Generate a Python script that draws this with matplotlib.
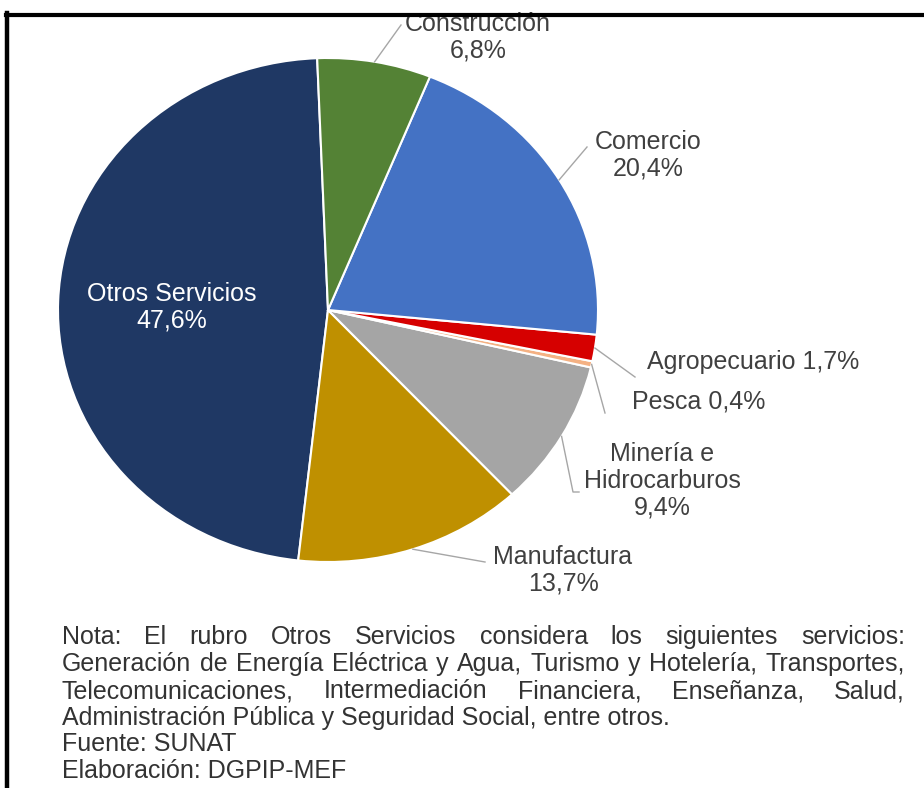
import matplotlib
matplotlib.use("Agg")
import matplotlib.pyplot as plt
from matplotlib.lines import Line2D
import numpy as np

plt.rcParams["font.family"] = ["Liberation Sans", "DejaVu Sans"]

# --- data (counter-clockwise from the top) ---
SECTORS = ["Otros Servicios", "Manufactura", "Minería e\nHidrocarburos",
           "Pesca", "Agropecuario", "Comercio", "Construcción"]
SHARES = [47.6, 13.7, 9.4, 0.4, 1.7, 20.4, 6.8]
COLORS = ["#1F3864", "#BF9000", "#A5A5A5", "#F4B183", "#D60000", "#4472C4", "#548235"]
INLINE_LABEL = [False, False, False, True, True, False, False]  # "name x%" on one line

NOTE_JUSTIFIED = [
    "Nota: El rubro Otros Servicios considera los siguientes servicios:",
    "Generación de Energía Eléctrica y Agua, Turismo y Hotelería, Transportes,",
    "Telecomunicaciones, Intermediación Financiera, Enseñanza, Salud,",
]
NOTE_LEFT = [
    "Administración Pública y Seguridad Social, entre otros.",
    "Fuente: SUNAT",
    "Elaboración: DGPIP-MEF",
]

# --- layout (pixels in a 924x788 canvas) ---
W, H = 924, 788
CX, CY = 328, 310      # pie centre
RX, RY = 270, 252      # the source picture is slightly stretched horizontally

LABEL_POS = [(172, 307), (563, 570), (662, 481), (632, 402), (647, 362), (648, 155), (478, 37)]
LABEL_HA = ["center", "center", "center", "left", "left", "center", "center"]
LEADER_END = [None, [(485, 562)], [(573, 492), (579, 492)], [(605, 413)],
              [(635, 377)], [(587, 147)], [(401, 25)]]

TEXT_COLOR = "#404040"
LEADER_COLOR = "#A6A6A6"
NOTE_COLOR = "#333333"


def to_data(px, py):
    return (px - CX) / RX, (CY - py) / RY


def fmt(v):
    return f"{v:.1f}".replace(".", ",") + "%"


fig = plt.figure(figsize=(W / 100, H / 100), dpi=100)
ax = fig.add_axes([0, 0, 1, 1])

wedges, _ = ax.pie(SHARES, colors=COLORS, startangle=92.3, counterclock=True,
                   wedgeprops=dict(edgecolor="white", linewidth=1.5))
ax.set_aspect("auto")
ax.set_xlim(to_data(0, 0)[0], to_data(W, 0)[0])
ax.set_ylim(to_data(0, H)[1], to_data(0, 0)[1])
ax.axis("off")

for i, w in enumerate(wedges):
    name = SECTORS[i]
    label = f"{name} {fmt(SHARES[i])}" if INLINE_LABEL[i] else f"{name}\n{fmt(SHARES[i])}"
    tx, ty = to_data(*LABEL_POS[i])
    color = "white" if LEADER_END[i] is None else TEXT_COLOR
    ax.text(tx, ty, label, ha=LABEL_HA[i], va="center", fontsize=18,
            color=color, linespacing=1.15, multialignment="center")
    if LEADER_END[i] is not None:
        mid = np.deg2rad((w.theta1 + w.theta2) / 2)
        xs = [np.cos(mid)] + [to_data(*p)[0] for p in LEADER_END[i]]
        ys = [np.sin(mid)] + [to_data(*p)[1] for p in LEADER_END[i]]
        ax.plot(xs, ys, color=LEADER_COLOR, lw=1.0, zorder=3)

# --- note below the chart, justified like the source ---
renderer = fig.canvas.get_renderer()
x0, x1 = 62, 905
line_y = [637, 664, 691, 718, 744, 771]

# the longest line runs nearly edge to edge with plain spaces: size the font from it
probe = fig.text(0, 0, NOTE_JUSTIFIED[1], fontsize=14)
note_fs = 14 * (x1 - x0) / probe.get_window_extent(renderer).width * 0.99
probe.remove()

for k, line in enumerate(NOTE_JUSTIFIED):
    words = line.split(" ")
    texts = [fig.text(0, 1 - line_y[k] / H, wd, fontsize=note_fs, color=NOTE_COLOR,
                      va="center", ha="left") for wd in words]
    widths = [t.get_window_extent(renderer).width for t in texts]
    gap = (x1 - x0 - sum(widths)) / (len(words) - 1)
    x = x0
    for t, wdt in zip(texts, widths):
        t.set_x(x / W)
        x += wdt + gap
for k, line in enumerate(NOTE_LEFT):
    fig.text(x0 / W, 1 - line_y[k + 3] / H, line, fontsize=note_fs, color=NOTE_COLOR,
             va="center", ha="left")

# --- black frame (right and bottom edges fall outside the crop) ---
fig.add_artist(Line2D([6 / W, 1.0], [1 - 14.5 / H] * 2, transform=fig.transFigure,
                      color="black", lw=3.0, zorder=10))
fig.add_artist(Line2D([7.5 / W] * 2, [0.0, 1 - 13 / H], transform=fig.transFigure,
                      color="black", lw=3.2, zorder=10))

fig.savefig("out.png", dpi=100, facecolor="white")
